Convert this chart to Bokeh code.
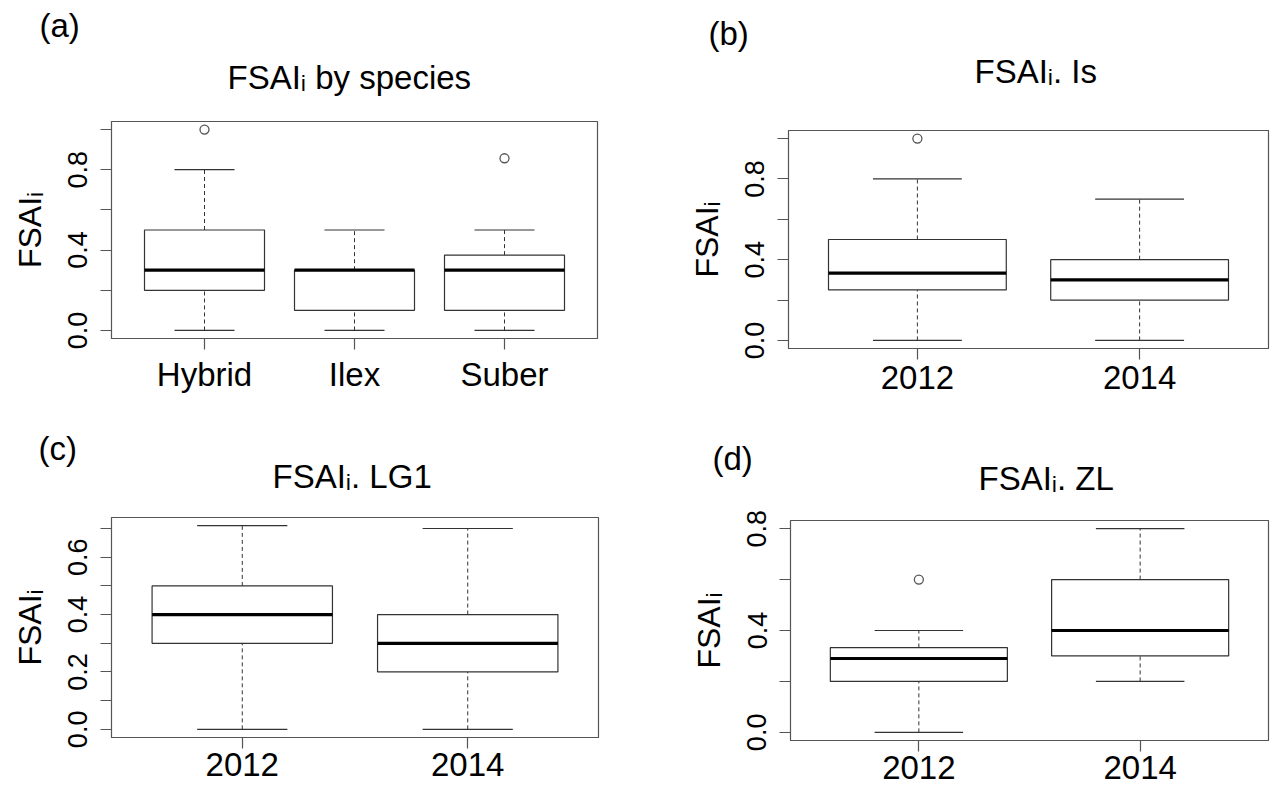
from bokeh.plotting import figure
from bokeh.models import FactorRange, Range1d, FixedTicker, Title, ColumnDataSource, Spacer
from bokeh.transform import dodge
from bokeh.layouts import column, row
from bokeh.embed import file_html
from bokeh.resources import INLINE

FONT = "Liberation Sans"

# ---------------- data ----------------
species = ["Hybrid", "Ilex", "Suber"]
a_low = [0.0, 0.0, 0.0]
a_q1 = [0.2, 0.1, 0.1]
a_med = [0.3, 0.3, 0.3]
a_q3 = [0.5, 0.3, 0.375]
a_high = [0.8, 0.5, 0.5]
a_out_cat = ["Hybrid", "Suber"]
a_out_val = [1.0, 0.857]

years = ["2012", "2014"]

b_low = [0.0, 0.0]
b_q1 = [0.25, 0.2]
b_med = [0.333, 0.3]
b_q3 = [0.5, 0.4]
b_high = [0.8, 0.7]
b_out_cat = ["2012"]
b_out_val = [1.0]

c_low = [0.0, 0.0]
c_q1 = [0.3, 0.2]
c_med = [0.4, 0.3]
c_q3 = [0.5, 0.4]
c_high = [0.71, 0.7]
c_out_cat = []
c_out_val = []

d_low = [0.0, 0.2]
d_q1 = [0.2, 0.3]
d_med = [0.29, 0.4]
d_q3 = [0.333, 0.6]
d_high = [0.4, 0.8]
d_out_cat = ["2012"]
d_out_val = [0.6]

ab_yticks = [0.0, 0.2, 0.4, 0.6, 0.8, 1.0]
ab_ylabels = ["0.0", "", "0.4", "", "0.8", ""]
c_yticks = [0.0, 0.1, 0.2, 0.3, 0.4, 0.5, 0.6, 0.7]
c_ylabels = ["0.0", "", "0.2", "", "0.4", "", "0.6", ""]
d_yticks = [0.0, 0.2, 0.4, 0.6, 0.8]
d_ylabels = ["0.0", "", "0.4", "", "0.8"]

titles = ["FSAI\u1d62 by species", "FSAI\u1d62. Is", "FSAI\u1d62. LG1", "FSAI\u1d62. ZL"]
letters = ["(a)", "(b)", "(c)", "(d)"]
ylabel = "FSAI\u1d62"

FRAME_COL = "#555555"
BOX_COL = "#333333"


def panel(cats, low, q1, med, q3, high, out_cat, out_val, yticks, ylabels,
          title, letter, width, height, borders, title_pos, letter_pos,
          xlab_standoff):
    mbl, mbr, mbt, mbb = borders
    vals = list(low) + list(high) + list(out_val)
    lo, hi = min(vals), max(vals)
    pad = 0.04 * (hi - lo)

    p = figure(width=width, height=height,
               x_range=FactorRange(factors=cats, range_padding=0.08),
               y_range=Range1d(lo - pad, hi + pad),
               output_backend="svg", toolbar_location=None, title=None,
               min_border_left=mbl, min_border_right=mbr,
               min_border_top=mbt, min_border_bottom=mbb)
    p.xgrid.visible = False
    p.ygrid.visible = False
    p.outline_line_color = FRAME_COL
    p.outline_line_width = 1.2
    p.background_fill_color = "white"
    p.border_fill_color = "white"

    src = ColumnDataSource(dict(cat=cats, low=low, q1=q1, med=med, q3=q3, high=high))
    # whiskers
    p.segment(x0="cat", y0="q3", x1="cat", y1="high", source=src,
              line_color=BOX_COL, line_width=1, line_dash="4 3")
    p.segment(x0="cat", y0="low", x1="cat", y1="q1", source=src,
              line_color=BOX_COL, line_width=1, line_dash="4 3")
    # staples
    p.segment(x0=dodge("cat", -0.2, range=p.x_range), y0="high",
              x1=dodge("cat", 0.2, range=p.x_range), y1="high", source=src,
              line_color=BOX_COL, line_width=1.2)
    p.segment(x0=dodge("cat", -0.2, range=p.x_range), y0="low",
              x1=dodge("cat", 0.2, range=p.x_range), y1="low", source=src,
              line_color=BOX_COL, line_width=1.2)
    # boxes
    p.vbar(x="cat", width=0.8, bottom="q1", top="q3", source=src,
           fill_color="white", line_color=BOX_COL, line_width=1.2)
    # medians
    p.segment(x0=dodge("cat", -0.4, range=p.x_range), y0="med",
              x1=dodge("cat", 0.4, range=p.x_range), y1="med", source=src,
              line_color="black", line_width=3.2)
    # outliers
    if out_cat:
        p.scatter(x=out_cat, y=out_val, marker="circle", size=9,
                  fill_color=None, line_color="#555555", line_width=1.3)

    # axes
    p.yaxis.ticker = FixedTicker(ticks=yticks)
    p.yaxis.major_label_overrides = {t: l for t, l in zip(yticks, ylabels)}
    p.yaxis.major_label_orientation = "parallel"
    p.yaxis.minor_tick_line_color = None
    for ax in (p.xaxis[0], p.yaxis[0]):
        ax.axis_line_color = FRAME_COL
        ax.major_tick_line_color = FRAME_COL
        ax.major_tick_line_width = 1.2
        ax.major_tick_in = 0
        ax.major_tick_out = 11
        ax.major_label_text_font = FONT
        ax.major_label_text_color = "black"
    p.yaxis.major_label_text_font_size = "27px"
    p.yaxis.major_label_standoff = 13
    p.xaxis.major_label_text_font_size = "33px"
    p.xaxis.major_label_standoff = xlab_standoff
    p.yaxis.axis_label = ylabel
    p.yaxis.axis_label_text_font = FONT
    p.yaxis.axis_label_text_font_size = "32px"
    p.yaxis.axis_label_text_font_style = "normal"
    p.yaxis.axis_label_text_color = "black"
    p.yaxis.axis_label_standoff = 18

    t_off, t_stand = title_pos
    l_off, l_stand = letter_pos
    p.add_layout(Title(text=title, align="left", offset=t_off, standoff=t_stand,
                       text_font=FONT, text_font_size="33px",
                       text_font_style="normal", text_color="black"), "above")
    p.add_layout(Title(text=letter, align="left", offset=l_off, standoff=l_stand,
                       text_font=FONT, text_font_size="33px",
                       text_font_style="normal", text_color="black"), "above")
    return p


# top row: y 0..395 ; bottom row: y 395..789
pa = panel(species, a_low, a_q1, a_med, a_q3, a_high, a_out_cat, a_out_val,
           ab_yticks, ab_ylabels, titles[0], letters[0],
           648, 395, (111, 51, 121, 56), (116, 52), (-72, -27), 6)
pb = panel(years, b_low, b_q1, b_med, b_q3, b_high, b_out_cat, b_out_val,
           ab_yticks, ab_ylabels, titles[1], letters[1],
           628, 386, (140, 8, 121, 47), (186, 82), (-80, -85), 6)
pc = panel(years, c_low, c_q1, c_med, c_q3, c_high, c_out_cat, c_out_val,
           c_yticks, c_ylabels, titles[2], letters[2],
           648, 394, (111, 50, 122, 52), (161, 46), (-73, -69), 4)
pd = panel(years, d_low, d_q1, d_med, d_q3, d_high, d_out_cat, d_out_val,
           d_yticks, d_ylabels, titles[3], letters[3],
           628, 391, (142, 8, 122, 49), (188, 48), (-78, -87), 4)

layout = column(
    row(pa, column(Spacer(width=628, height=9), pb)),
    row(pc, column(Spacer(width=628, height=3), pd)),
)
open("out.html", "w").write(file_html(layout, INLINE))
